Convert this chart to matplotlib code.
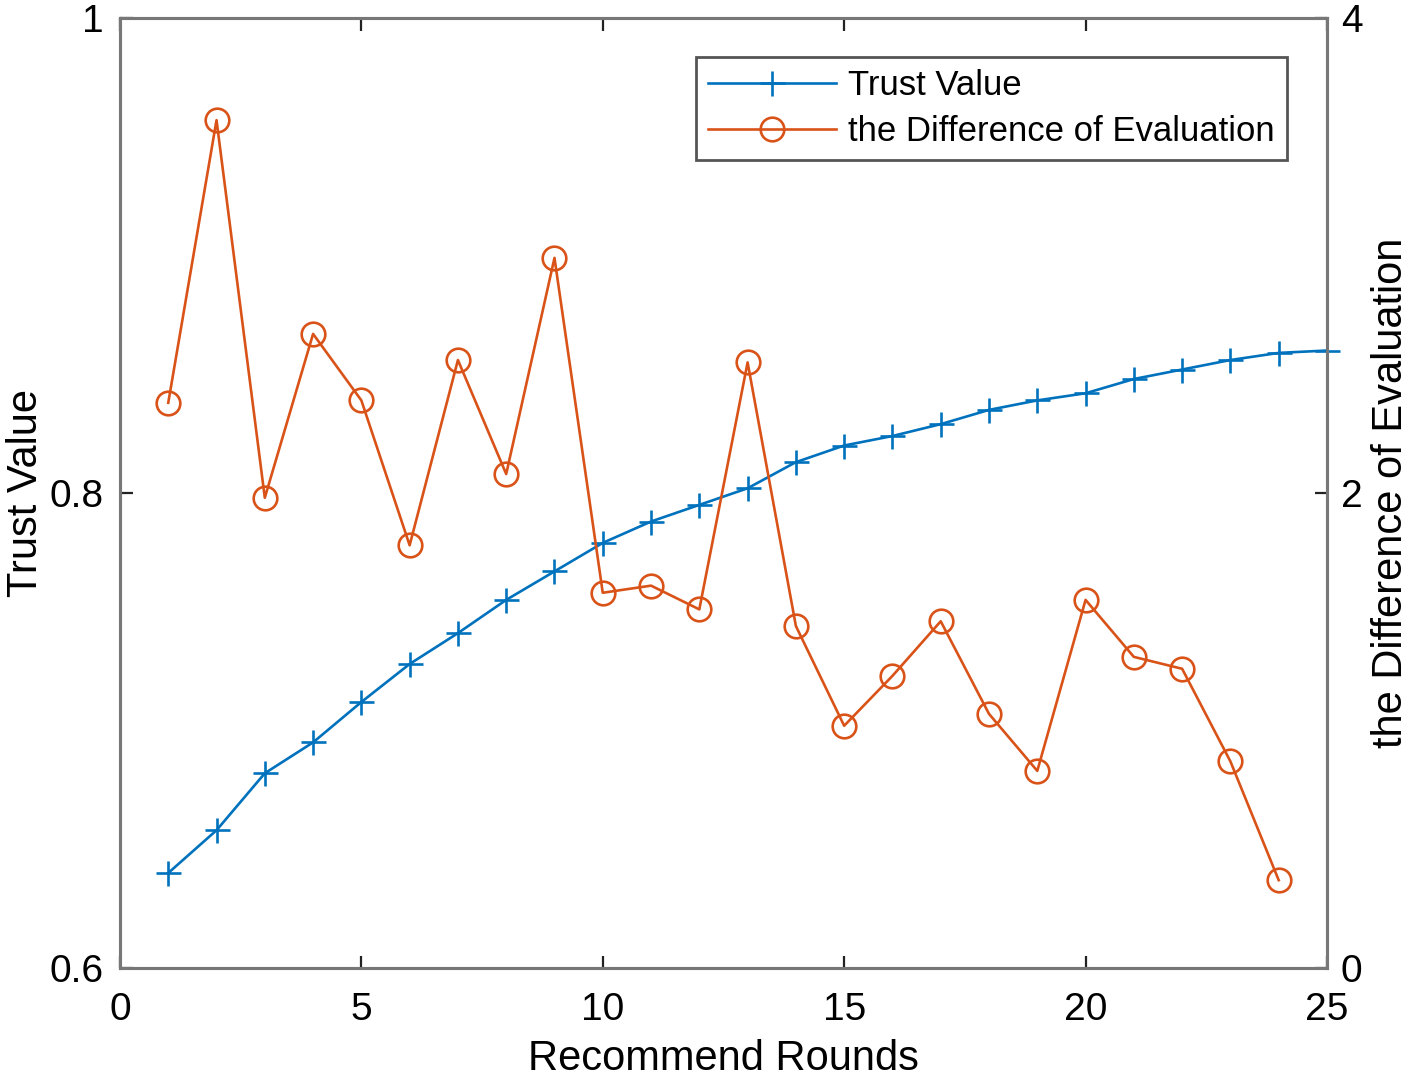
import matplotlib.pyplot as plt

plt.rcParams['font.family'] = ['Liberation Sans', 'DejaVu Sans']

rounds_trust = list(range(1, 26))
trust_value = [0.640, 0.658, 0.682, 0.695, 0.712, 0.728, 0.741, 0.755, 0.767,
               0.779, 0.788, 0.795, 0.802, 0.813, 0.820, 0.824, 0.829, 0.835,
               0.839, 0.842, 0.848, 0.852, 0.856, 0.859, 0.860]

rounds_diff = list(range(1, 25))
diff_eval = [2.38, 3.57, 1.98, 2.67, 2.39, 1.78, 2.56, 2.08, 2.99, 1.58,
             1.61, 1.51, 2.55, 1.44, 1.02, 1.23, 1.46, 1.07, 0.83, 1.55,
             1.31, 1.26, 0.87, 0.37]

x_ticks = [0, 5, 10, 15, 20, 25]
left_ticks = [0.6, 0.8, 1.0]
left_labels = ['0.6', '0.8', '1']
right_ticks = [0, 2, 4]
right_labels = ['0', '2', '4']

blue = '#0072BD'
orange = '#D95319'
spine_col = '#777777'

fig = plt.figure(figsize=(14.18, 10.8), dpi=100)
ax = fig.add_axes([0.0846, 0.1037, 0.8512, 0.8796])
ax2 = ax.twinx()

l1, = ax.plot(rounds_trust, trust_value, color=blue, lw=1.9, marker='+',
              ms=18, mew=1.9, clip_on=False, zorder=3)
l2, = ax2.plot(rounds_diff, diff_eval, color=orange, lw=1.9, marker='o',
               ms=17, mew=1.9, mfc='none', zorder=3)

ax.set_xlim(0, 25)
ax.set_ylim(0.6, 1.0)
ax2.set_ylim(0, 4)
ax.set_xticks(x_ticks)
ax.set_yticks(left_ticks)
ax.set_yticklabels(left_labels)
ax2.set_yticks(right_ticks)
ax2.set_yticklabels(right_labels)

for a in (ax, ax2):
    for s in a.spines.values():
        s.set_color(spine_col)
        s.set_linewidth(2.2)

ax.tick_params(axis='x', direction='in', length=9, width=1.6, color='#222222',
               labelsize=28, pad=17, top=True)
ax.tick_params(axis='y', direction='in', length=9, width=1.6, color='#222222',
               labelsize=28, pad=12)
ax2.tick_params(axis='y', direction='in', length=9, width=1.6, color='#222222',
                labelsize=28, pad=10)

ax.set_xlabel('Recommend Rounds', fontsize=30, labelpad=8)
ax.set_ylabel('Trust Value', fontsize=30, labelpad=2)
ax2.set_ylabel('the Difference of Evaluation', fontsize=30, labelpad=6,
               rotation=90)

leg = ax2.legend([l1, l2], ['Trust Value', 'the Difference of Evaluation'],
                 loc='upper right', bbox_to_anchor=(0.967, 0.959),
                 fontsize=25, fancybox=False, framealpha=1,
                 edgecolor='#555555', handlelength=3.7, borderpad=0.35,
                 labelspacing=0.38, handletextpad=0.35, borderaxespad=0)
leg.get_frame().set_linewidth(2)

fig.savefig('out.png', dpi=100)
